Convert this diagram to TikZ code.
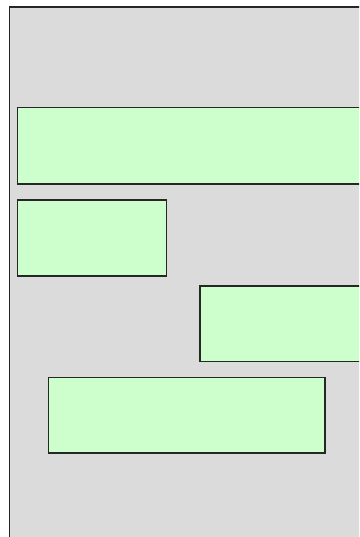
\documentclass[tikz,border=0pt]{standalone}
\begin{document}
\begin{tikzpicture}[x=1pt,y=-1pt,
  panel/.style={draw=black!85,fill=black!14,line width=1.3pt},
  greenbox/.style={draw=black!85,fill={rgb,255:red,204;green,255;blue,204},line width=1.3pt}]
\useasboundingbox (0,0) rectangle (359,537);
\clip (0,0) rectangle (359,537);
\fill[white] (0,0) rectangle (359,537);
\draw[panel] (9.5,7) rectangle (375,560);
\draw[greenbox] (17.5,107.5) rectangle (375,184);
\draw[greenbox] (17.5,200) rectangle (166.5,276);
\draw[greenbox] (200,286) rectangle (375,361.5);
\draw[greenbox] (48.5,377.5) rectangle (325,453);
\end{tikzpicture}
\end{document}
